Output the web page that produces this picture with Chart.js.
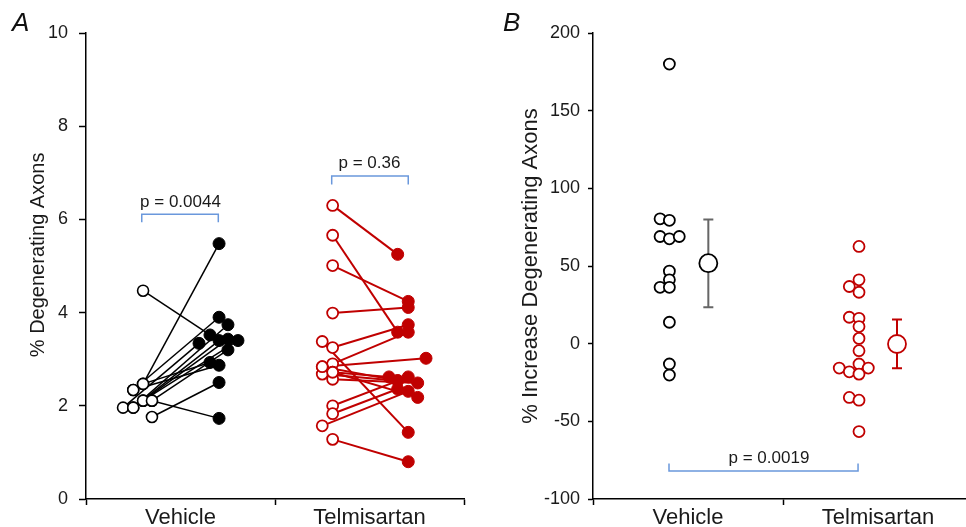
<!DOCTYPE html>
<html><head><meta charset="utf-8">
<script src="https://cdn.jsdelivr.net/npm/chart.js@4.4.1/dist/chart.umd.min.js"></script>
<style>
html,body{margin:0;padding:0;background:#fff;overflow:hidden;width:966px;height:527px;position:relative;}
#wa{position:absolute;left:0;top:0;width:490px;height:527px;}
#wb{position:absolute;left:490px;top:0;width:500px;height:527px;}
.lbl{position:absolute;font-family:"Liberation Sans",Arial,sans-serif;font-style:italic;font-size:26px;color:#111;line-height:1;}
</style></head><body>
<div id="wa"><canvas id="ca" width="490" height="527"></canvas></div>
<div id="wb"><canvas id="cb" width="500" height="527"></canvas></div>
<div class="lbl" style="left:12px;top:9px">A</div>
<div class="lbl" style="left:503px;top:9px">B</div>
<script>
// ---------- data ----------
const categories = ['Vehicle', 'Telmisartan'];
const yTicksA = [0, 2, 4, 6, 8, 10];
const yTicksB = [-100, -50, 0, 50, 100, 150, 200];

// Panel A: % degenerating axons, before (open) and after (filled), with horizontal jitter
const vehBefore       = [4.47, 2.47, 2.11, 2.34, 1.96, 1.96, 2.11, 1.76, 2.11, 1.96, 2.11, 2.47, 2.34];
const vehBeforeJitter = [-0.198, -0.198, -0.151, -0.25, -0.304, -0.25, -0.198, -0.151, -0.198, -0.25, -0.151, -0.198, -0.25];
const vehAfter        = [3.52, 5.48, 1.73, 3.90, 3.34, 3.74, 3.43, 2.50, 3.40, 3.40, 3.20, 2.93, 2.87];
const vehAfterJitter  = [0.156, 0.204, 0.204, 0.204, 0.098, 0.251, 0.251, 0.204, 0.304, 0.204, 0.251, 0.156, 0.204];

const telBefore       = [6.30, 5.66, 5.01, 3.99, 3.38, 3.25, 2.90, 2.84, 2.72, 2.68, 2.57, 2.00, 1.83, 1.57, 1.28, 2.72, 2.84];
const telBeforeJitter = [-0.195, -0.195, -0.195, -0.195, -0.25, -0.195, -0.195, -0.25, -0.195, -0.25, -0.195, -0.195, -0.195, -0.25, -0.195, -0.195, -0.25];
const telAfter        = [5.25, 3.58, 4.24, 4.11, 1.43, 3.74, 3.58, 3.02, 2.62, 2.54, 2.49, 2.62, 2.36, 2.31, 0.80, 2.18, 2.54];
const telAfterJitter  = [0.149, 0.149, 0.205, 0.205, 0.205, 0.205, 0.205, 0.299, 0.103, 0.149, 0.255, 0.205, 0.149, 0.205, 0.205, 0.255, 0.149];

// Panel B: % increase in degenerating axons
const vehIncrease       = [180, 80.4, 79.4, 69, 67.5, 69, 46.7, 41.1, 36.3, 36.3, 13.8, -13.1, -20.2];
const vehIncreaseJitter = [-0.098, -0.147, -0.098, -0.147, -0.098, -0.046, -0.098, -0.098, -0.147, -0.098, -0.098, -0.098, -0.098];
const telIncrease       = [62.6, 41.1, 36.8, 33.1, 17.0, 16.3, 11.0, 3.4, -4.5, -13.1, -15.7, -15.7, -18.1, -19.6, -34.6, -36.4, -56.6];
const telIncreaseJitter = [-0.1, -0.1, -0.151, -0.1, -0.151, -0.1, -0.1, -0.1, -0.1, -0.1, -0.204, -0.051, -0.151, -0.1, -0.151, -0.1, -0.1];
const meanIncrease = [51.8, -0.2];
const errUpper     = [80, 15.5];
const errLower     = [23.4, -15.9];

const pValuesA = ['p = 0.0044', 'p = 0.36'];
const pValueB = 'p = 0.0019';

// ---------- styling ----------
const FONT = "'Liberation Sans', Arial, sans-serif";
Chart.defaults.font.family = FONT;
Chart.defaults.color = '#1a1a1a';
const RED = '#c00000';
const BLUE = '#6a98dc';
const INK = '#1a1a1a';

function xTickValues() { return [-0.5, 0, 0.5, 1, 1.5]; }

function xScale(height) {
  return {
    type: 'linear', min: -0.5, max: 1.5,
    afterBuildTicks: s => { s.ticks = xTickValues().map(v => ({value: v})); },
    afterFit: s => { s.height = height; },
    border: {color: '#000', width: 1.5},
    grid: {drawOnChartArea: false, tickLength: 6, tickWidth: 1.5,
      tickColor: c => (c.tick && Number.isInteger(c.tick.value)) ? 'rgba(0,0,0,0)' : '#000'},
    ticks: {autoSkip: false, maxRotation: 0, padding: 0, font: {size: 22}, color: INK,
      callback: v => Number.isInteger(v) ? categories[v] : ''}
  };
}
function yScale(min, max, ticks, width, title, titleSize, titlePad, tickLen, tickPad) {
  return {
    type: 'linear', min, max,
    afterBuildTicks: s => { s.ticks = ticks.map(v => ({value: v})); },
    afterFit: s => { s.width = width; },
    border: {color: '#000', width: 1.5},
    grid: {drawOnChartArea: false, tickLength: tickLen, tickWidth: 1.5, tickColor: '#000'},
    ticks: {padding: tickPad, font: {size: 18}, color: INK},
    title: {display: true, text: title, font: {size: titleSize}, color: INK, padding: {top: titlePad, bottom: 0}}
  };
}

const annot = {
  id: 'annot',
  beforeDatasetsDraw(chart, args, opts) {
    const {ctx, scales: {x, y}} = chart;
    (opts.errorBars || []).forEach(e => {
      const px = x.getPixelForValue(e.x);
      const pt = y.getPixelForValue(e.hi), pb = y.getPixelForValue(e.lo);
      ctx.save();
      ctx.strokeStyle = e.color; ctx.lineWidth = 2;
      ctx.beginPath();
      ctx.moveTo(px, pt); ctx.lineTo(px, pb);
      ctx.moveTo(px - 5, pt); ctx.lineTo(px + 5, pt);
      ctx.moveTo(px - 5, pb); ctx.lineTo(px + 5, pb);
      ctx.stroke();
      ctx.restore();
    });
  },
  afterDatasetsDraw(chart, args, opts) {
    const {ctx, scales: {x, y}} = chart;
    (opts.brackets || []).forEach(b => {
      const x1 = x.getPixelForValue(b.x1), x2 = x.getPixelForValue(b.x2);
      const yb = y.getPixelForValue(b.y), yl = y.getPixelForValue(b.leg);
      ctx.save();
      ctx.strokeStyle = BLUE; ctx.lineWidth = 1.5;
      ctx.beginPath();
      ctx.moveTo(x1, yl); ctx.lineTo(x1, yb); ctx.lineTo(x2, yb); ctx.lineTo(x2, yl);
      ctx.stroke();
      ctx.fillStyle = INK; ctx.font = '17px ' + FONT;
      ctx.textAlign = 'center'; ctx.textBaseline = 'middle';
      ctx.fillText(b.text, x.getPixelForValue(b.tx), y.getPixelForValue(b.ty));
      ctx.restore();
    });
  }
};

function pairLines(before, bj, after, aj, cat, color, width) {
  return before.map((v, i) => ({
    data: [{x: cat + bj[i], y: v}, {x: cat + aj[i], y: after[i]}],
    showLine: true, borderColor: color, borderWidth: width, pointRadius: 0, order: 5
  }));
}
function pts(vals, jit, cat) { return vals.map((v, i) => ({x: cat + jit[i], y: v})); }

const dsA = [
  {data: pts(vehBefore, vehBeforeJitter, 0), pointRadius: 5.5, pointBackgroundColor: '#fff', pointBorderColor: '#000', pointBorderWidth: 1.6, order: 1},
  {data: pts(vehAfter, vehAfterJitter, 0), pointRadius: 6, pointBackgroundColor: '#000', pointBorderColor: '#000', pointBorderWidth: 1, order: 1},
  {data: pts(telBefore, telBeforeJitter, 1), pointRadius: 5.5, pointBackgroundColor: '#fff', pointBorderColor: RED, pointBorderWidth: 1.8, order: 1},
  {data: pts(telAfter, telAfterJitter, 1), pointRadius: 6, pointBackgroundColor: RED, pointBorderColor: RED, pointBorderWidth: 1, order: 1},
  ...pairLines(vehBefore, vehBeforeJitter, vehAfter, vehAfterJitter, 0, '#000', 1.5),
  ...pairLines(telBefore, telBeforeJitter, telAfter, telAfterJitter, 1, RED, 2)
];

new Chart(document.getElementById('ca'), {
  type: 'scatter',
  data: {datasets: dsA},
  options: {
    responsive: false, animation: false, events: [],
    layout: {padding: {top: 33, right: 26, bottom: 0, left: 0}},
    plugins: {legend: {display: false}, tooltip: {enabled: false},
      annot: {brackets: [
        {x1: -0.205, x2: 0.2, y: 6.11, leg: 5.94, text: pValuesA[0], tx: 0, ty: 6.37},
        {x1: 0.8, x2: 1.205, y: 6.93, leg: 6.75, text: pValuesA[1], tx: 1.0, ty: 7.2}
      ]}},
    scales: {
      x: xScale(28),
      y: yScale(0, 10, yTicksA, 86, '    % Degenerating Axons', 20, 26, 7, 11)
    }
  },
  plugins: [annot]
});

const dsB = [
  {data: pts(vehIncrease, vehIncreaseJitter, 0), pointRadius: 5.5, pointBackgroundColor: '#fff', pointBorderColor: '#000', pointBorderWidth: 1.8},
  {data: pts(telIncrease, telIncreaseJitter, 1), pointRadius: 5.5, pointBackgroundColor: '#fff', pointBorderColor: RED, pointBorderWidth: 1.8},
  {data: [{x: 0.107, y: meanIncrease[0]}], pointRadius: 9, pointBackgroundColor: '#fff', pointBorderColor: '#000', pointBorderWidth: 1.8},
  {data: [{x: 1.1, y: meanIncrease[1]}], pointRadius: 9, pointBackgroundColor: '#fff', pointBorderColor: RED, pointBorderWidth: 1.8}
];

new Chart(document.getElementById('cb'), {
  type: 'scatter',
  data: {datasets: dsB},
  options: {
    responsive: false, animation: false, events: [],
    layout: {padding: {top: 33, right: 17, bottom: 0, left: 0}},
    plugins: {legend: {display: false}, tooltip: {enabled: false},
      annot: {
        errorBars: [
          {x: 0.107, hi: errUpper[0], lo: errLower[0], color: '#666'},
          {x: 1.1, hi: errUpper[1], lo: errLower[1], color: RED}
        ],
        brackets: [
          {x1: -0.1, x2: 0.895, y: -81.9, leg: -77.2, text: pValueB, tx: 0.426, ty: -74}
        ]
      }},
    scales: {
      x: xScale(28),
      y: yScale(-100, 200, yTicksB, 103, '% Increase Degenerating Axons', 22, 28, 5, 8)
    }
  },
  plugins: [annot]
});
</script>
</body></html>
